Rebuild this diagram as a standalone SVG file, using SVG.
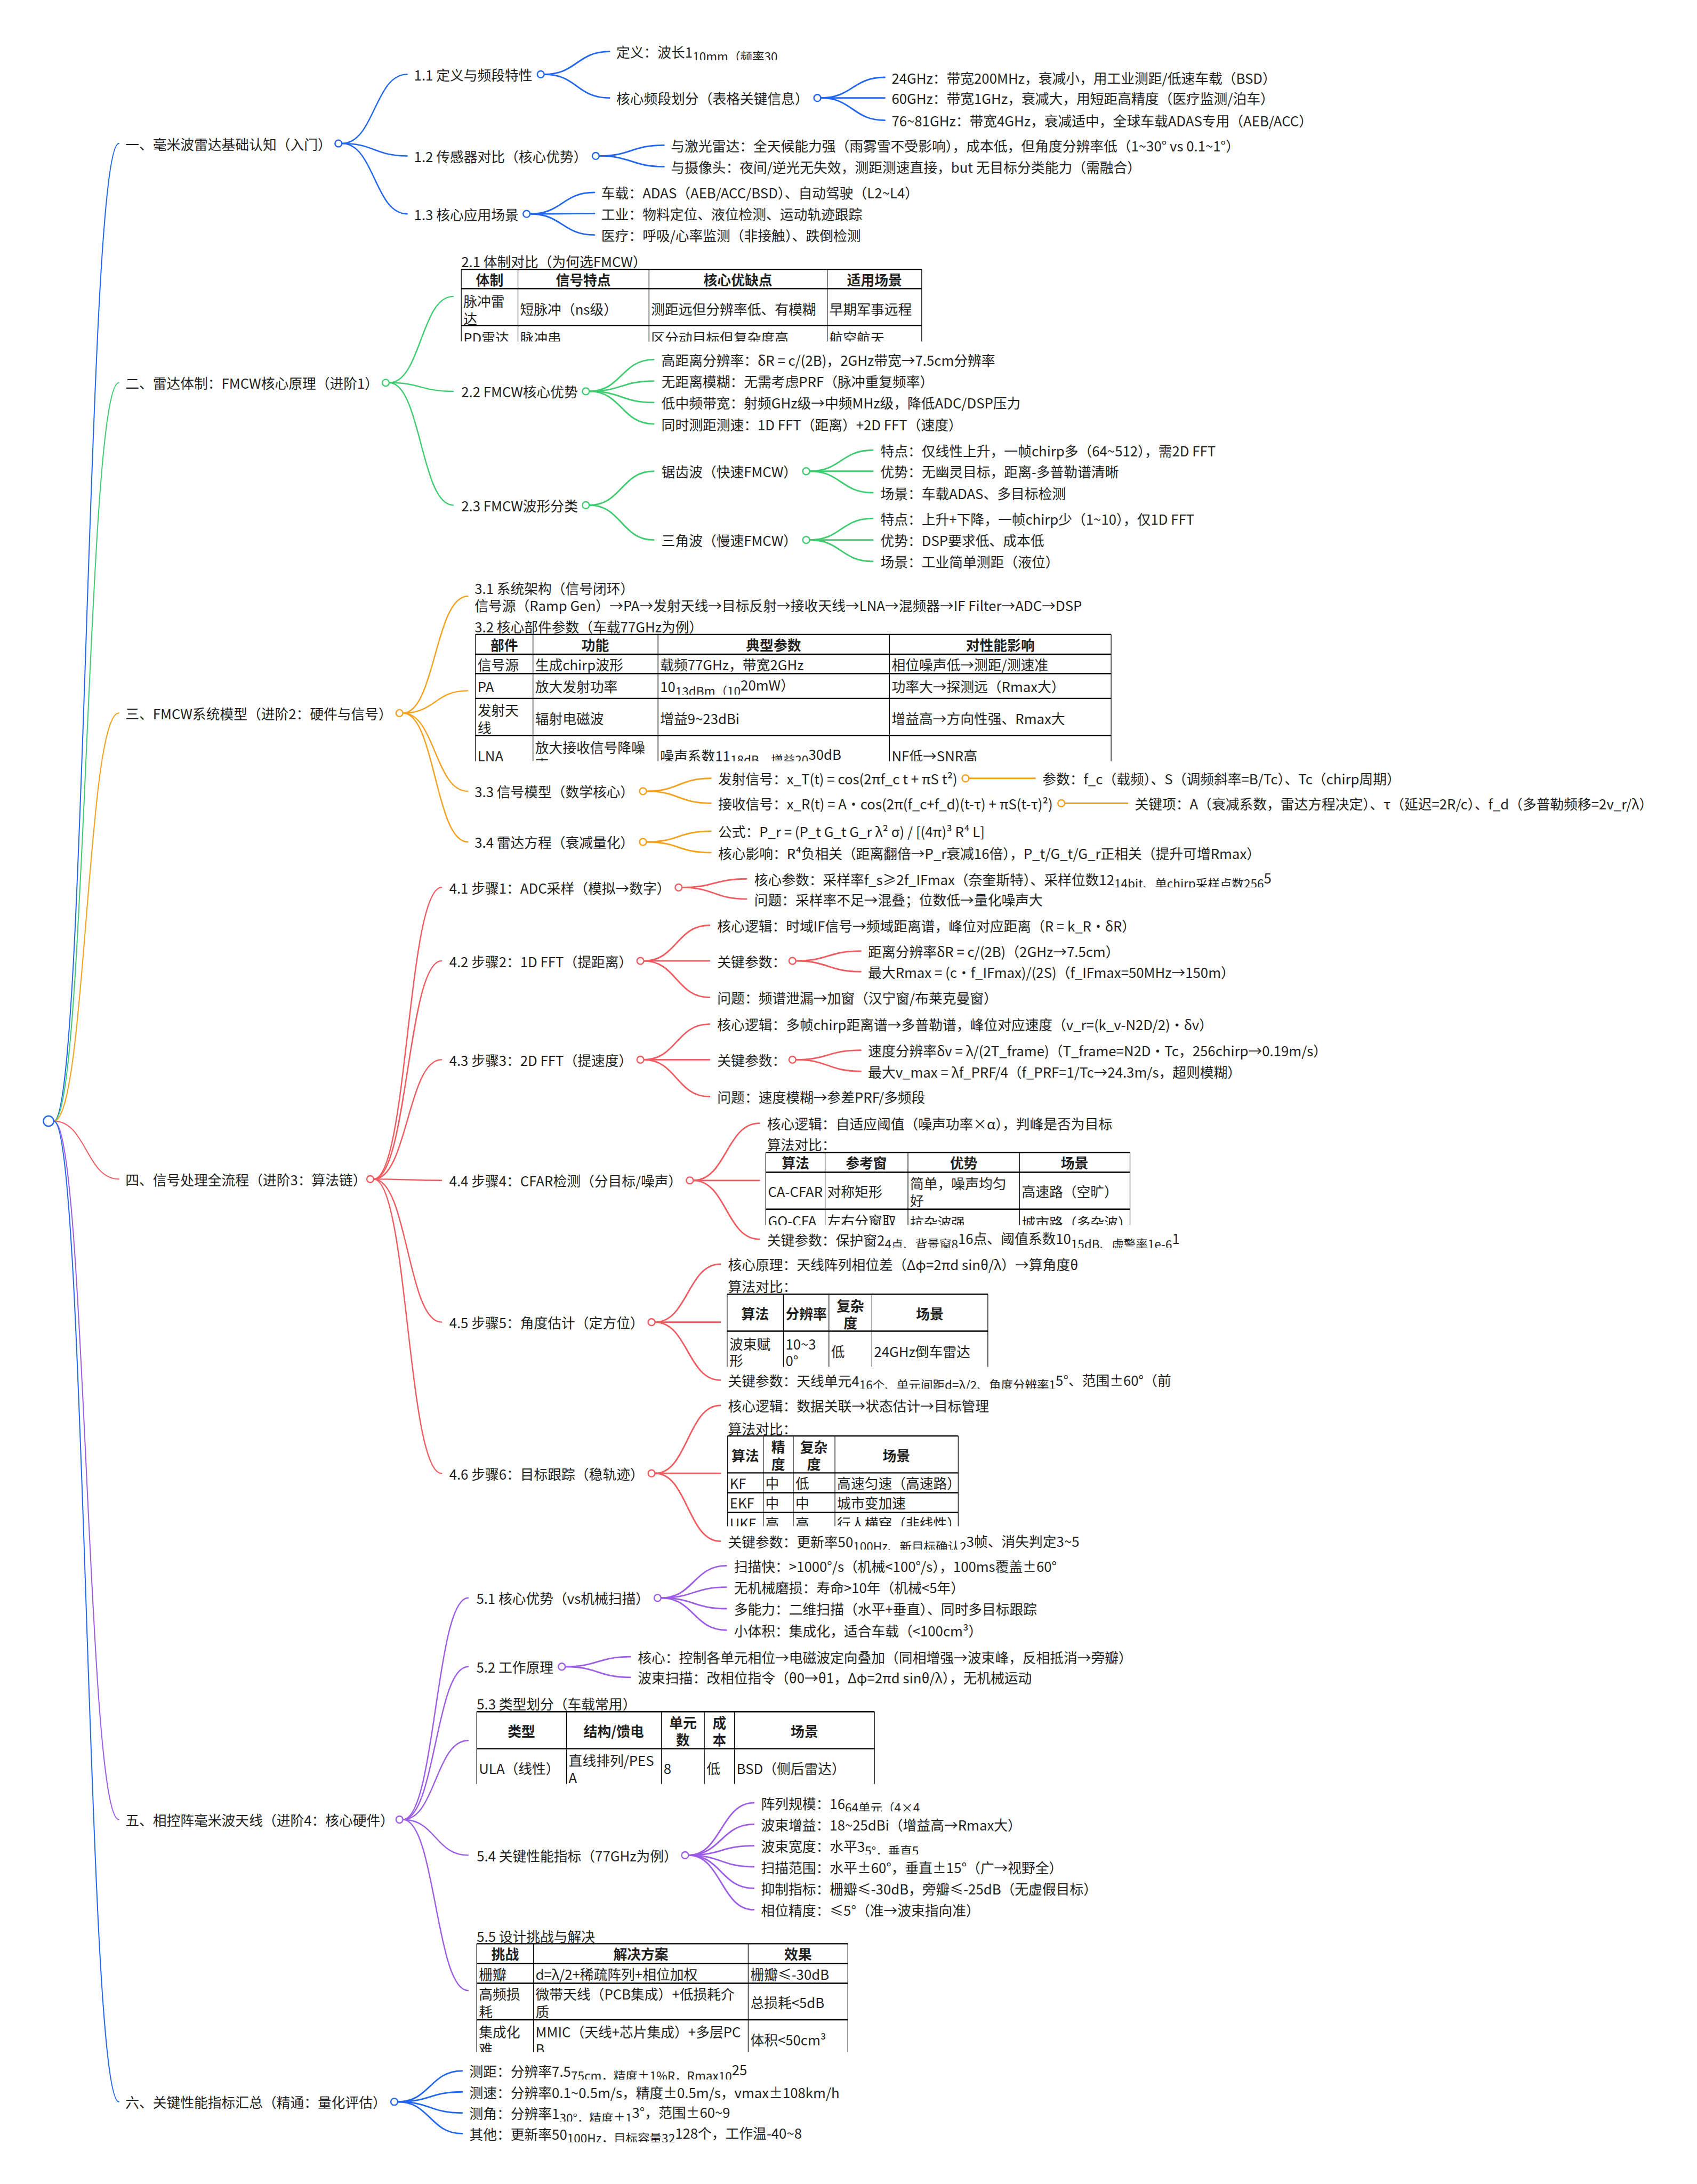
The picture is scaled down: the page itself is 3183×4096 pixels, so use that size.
<svg xmlns="http://www.w3.org/2000/svg" width="3183" height="4096" viewBox="0 0 3183 4096">
<style>
text{font-family:"Noto Sans CJK SC","Noto Sans",sans-serif;font-size:32px;fill:#1f1f1f;dominant-baseline:central}
.s{font-size:28px}
.h{font-weight:700}
.m{text-anchor:middle}
.lk{fill:none;stroke-width:3.5;stroke-linecap:round}
.l0{stroke-width:2.5}
.l1{stroke-width:3}
.dot{fill:#fff;stroke-width:3}
.B{stroke:#2066f0}.G{stroke:#3dcc70}.O{stroke:#f5a01a}.R{stroke:#f15a5f}.P{stroke:#9c5ce6}
.hl{stroke:#000;stroke-width:3}
.vl{stroke:#000;stroke-width:1.5}
</style>
<defs>
<clipPath id="c21"><rect x="1071" y="624" width="1078" height="171"/></clipPath>
<clipPath id="c32"><rect x="1104" y="1474" width="1486" height="298"/></clipPath>
<clipPath id="c44"><rect x="1780" y="2680" width="854" height="172"/></clipPath>
<clipPath id="c45"><rect x="1690" y="3010" width="613" height="172"/></clipPath>
<clipPath id="c46"><rect x="1691" y="3340" width="543" height="213"/></clipPath>
<clipPath id="c53"><rect x="1107" y="3982" width="932" height="171"/></clipPath>
<clipPath id="c55"><rect x="1107" y="4522" width="870" height="255"/></clipPath>
<clipPath id="k120"><rect x="0" y="90" width="3951" height="50"/></clipPath>
<clipPath id="k1597"><rect x="0" y="1567" width="3951" height="50"/></clipPath>
<clipPath id="k1758"><rect x="0" y="1728" width="3951" height="50"/></clipPath>
<clipPath id="k2046"><rect x="0" y="2016" width="3951" height="50"/></clipPath>
<clipPath id="k2885"><rect x="0" y="2855" width="3951" height="50"/></clipPath>
<clipPath id="k3213"><rect x="0" y="3183" width="3951" height="50"/></clipPath>
<clipPath id="k3588"><rect x="0" y="3558" width="3951" height="50"/></clipPath>
<clipPath id="k4197"><rect x="0" y="4167" width="3951" height="50"/></clipPath>
<clipPath id="k4297"><rect x="0" y="4267" width="3951" height="50"/></clipPath>
<clipPath id="k4821"><rect x="0" y="4791" width="3951" height="50"/></clipPath>
<clipPath id="k4919"><rect x="0" y="4889" width="3951" height="50"/></clipPath>
<clipPath id="k4967"><rect x="0" y="4937" width="3951" height="50"/></clipPath>
</defs>
<rect width="3183" height="4096" fill="#fff"/>
<g transform="scale(0.8056)">
<g id="connectors">
<path class="lk l0 B" d="M125,2610C201,2610 201,334 277,334"/>
<path class="lk l0 G" d="M125,2610C201,2610 201,891 277,891"/>
<path class="lk l0 O" d="M125,2610C201,2610 201,1660 277,1660"/>
<path class="lk l0 R" d="M125,2610C201,2610 201,2745 277,2745"/>
<path class="lk l0 P" d="M125,2610C201,2610 201,4236 277,4236"/>
<path class="lk l0 B" d="M125,2610C201,2610 201,4893 277,4893"/>
<path class="lk l1 B" d="M796,334C872,334 872,173 948,173"/>
<path class="lk l1 B" d="M796,334C872,334 872,363 948,363"/>
<path class="lk l1 B" d="M796,334C872,334 872,498 948,498"/>
<path class="lk B" d="M1267,173C1343,173 1343,120 1419,120"/>
<path class="lk B" d="M1267,173C1343,173 1343,228 1419,228"/>
<path class="lk B" d="M1911,228C1985,228 1985,180 2060,180"/>
<path class="lk B" d="M1911,228L2060,228"/>
<path class="lk B" d="M1911,228C1985,228 1985,280 2060,280"/>
<path class="lk B" d="M1395,363C1470,363 1470,338 1546,338"/>
<path class="lk B" d="M1395,363C1470,363 1470,388 1546,388"/>
<path class="lk B" d="M1234,498C1309,498 1309,448 1384,448"/>
<path class="lk B" d="M1234,498C1309,498 1309,497 1384,497"/>
<path class="lk B" d="M1234,498C1309,498 1309,547 1384,547"/>
<path class="lk l1 G" d="M906,891C980,891 980,690 1055,690"/>
<path class="lk l1 G" d="M906,891C980,891 980,911 1055,911"/>
<path class="lk l1 G" d="M906,891C980,891 980,1176 1055,1176"/>
<path class="lk G" d="M1372,911C1447,911 1447,837 1522,837"/>
<path class="lk G" d="M1372,911C1447,911 1447,887 1522,887"/>
<path class="lk G" d="M1372,911C1447,911 1447,937 1522,937"/>
<path class="lk G" d="M1372,911C1447,911 1447,987 1522,987"/>
<path class="lk G" d="M1372,1176C1447,1176 1447,1097 1522,1097"/>
<path class="lk G" d="M1372,1176C1447,1176 1447,1257 1522,1257"/>
<path class="lk G" d="M1885,1097C1958,1097 1958,1048 2032,1048"/>
<path class="lk G" d="M1885,1097L2032,1097"/>
<path class="lk G" d="M1885,1097C1958,1097 1958,1147 2032,1147"/>
<path class="lk G" d="M1885,1257C1958,1257 1958,1207 2032,1207"/>
<path class="lk G" d="M1885,1257L2032,1257"/>
<path class="lk G" d="M1885,1257C1958,1257 1958,1307 2032,1307"/>
<path class="lk l1 O" d="M938,1660C1013,1660 1013,1388 1089,1388"/>
<path class="lk l1 O" d="M938,1660C1013,1660 1013,1608 1089,1608"/>
<path class="lk l1 O" d="M938,1660C1013,1660 1013,1842 1089,1842"/>
<path class="lk l1 O" d="M938,1660C1013,1660 1013,1960 1089,1960"/>
<path class="lk O" d="M1505,1842C1580,1842 1580,1812 1655,1812"/>
<path class="lk O" d="M1505,1842C1580,1842 1580,1870 1655,1870"/>
<path class="lk O" d="M2256,1812L2410,1812"/>
<path class="lk O" d="M2479,1870L2625,1870"/>
<path class="lk O" d="M1505,1960C1580,1960 1580,1935 1655,1935"/>
<path class="lk O" d="M1505,1960C1580,1960 1580,1985 1655,1985"/>
<path class="lk l1 R" d="M870,2745C949,2745 949,2066 1028,2066"/>
<path class="lk l1 R" d="M870,2745C949,2745 949,2237 1028,2237"/>
<path class="lk l1 R" d="M870,2745C949,2745 949,2467 1028,2467"/>
<path class="lk l1 R" d="M870,2745C949,2745 949,2748 1028,2748"/>
<path class="lk l1 R" d="M870,2745C949,2745 949,3078 1028,3078"/>
<path class="lk l1 R" d="M870,2745C949,2745 949,3430 1028,3430"/>
<path class="lk R" d="M1588,2066C1663,2066 1663,2046 1738,2046"/>
<path class="lk R" d="M1588,2066C1663,2066 1663,2093 1738,2093"/>
<path class="lk R" d="M1499,2237C1575,2237 1575,2154 1652,2154"/>
<path class="lk R" d="M1499,2237L1652,2237"/>
<path class="lk R" d="M1499,2237C1575,2237 1575,2322 1652,2322"/>
<path class="lk R" d="M1853,2237C1928,2237 1928,2214 2004,2214"/>
<path class="lk R" d="M1853,2237C1928,2237 1928,2262 2004,2262"/>
<path class="lk R" d="M1499,2467C1575,2467 1575,2384 1652,2384"/>
<path class="lk R" d="M1499,2467L1652,2467"/>
<path class="lk R" d="M1499,2467C1575,2467 1575,2553 1652,2553"/>
<path class="lk R" d="M1853,2467C1928,2467 1928,2445 2004,2445"/>
<path class="lk R" d="M1853,2467C1928,2467 1928,2494 2004,2494"/>
<path class="lk R" d="M1614,2748C1691,2748 1691,2615 1768,2615"/>
<path class="lk R" d="M1614,2748L1768,2748"/>
<path class="lk R" d="M1614,2748C1691,2748 1691,2885 1768,2885"/>
<path class="lk R" d="M1525,3078C1601,3078 1601,2943 1677,2943"/>
<path class="lk R" d="M1525,3078L1677,3078"/>
<path class="lk R" d="M1525,3078C1601,3078 1601,3213 1677,3213"/>
<path class="lk R" d="M1525,3430C1601,3430 1601,3272 1677,3272"/>
<path class="lk R" d="M1525,3430L1677,3430"/>
<path class="lk R" d="M1525,3430C1601,3430 1601,3588 1677,3588"/>
<path class="lk l1 P" d="M938,4236C1014,4236 1014,3720 1090,3720"/>
<path class="lk l1 P" d="M938,4236C1014,4236 1014,3880 1090,3880"/>
<path class="lk l1 P" d="M938,4236C1014,4236 1014,4052 1090,4052"/>
<path class="lk l1 P" d="M938,4236C1014,4236 1014,4319 1090,4319"/>
<path class="lk l1 P" d="M938,4236C1014,4236 1014,4634 1090,4634"/>
<path class="lk P" d="M1539,3720C1615,3720 1615,3645 1691,3645"/>
<path class="lk P" d="M1539,3720C1615,3720 1615,3695 1691,3695"/>
<path class="lk P" d="M1539,3720C1615,3720 1615,3745 1691,3745"/>
<path class="lk P" d="M1539,3720C1615,3720 1615,3795 1691,3795"/>
<path class="lk P" d="M1316,3880C1392,3880 1392,3857 1468,3857"/>
<path class="lk P" d="M1316,3880C1392,3880 1392,3905 1468,3905"/>
<path class="lk P" d="M1603,4319C1679,4319 1679,4197 1755,4197"/>
<path class="lk P" d="M1603,4319C1679,4319 1679,4247 1755,4247"/>
<path class="lk P" d="M1603,4319C1679,4319 1679,4297 1755,4297"/>
<path class="lk P" d="M1603,4319C1679,4319 1679,4346 1755,4346"/>
<path class="lk P" d="M1603,4319C1679,4319 1679,4396 1755,4396"/>
<path class="lk P" d="M1603,4319C1679,4319 1679,4446 1755,4446"/>
<path class="lk B" d="M926,4893C1001,4893 1001,4821 1076,4821"/>
<path class="lk B" d="M926,4893C1001,4893 1001,4870 1076,4870"/>
<path class="lk B" d="M926,4893C1001,4893 1001,4919 1076,4919"/>
<path class="lk B" d="M926,4893C1001,4893 1001,4967 1076,4967"/>
</g>
<g id="root"><circle class="dot B" cx="113" cy="2610" r="12"/></g>

<g id="n1"><text x="292" y="334">一、毫米波雷达基础认知（入门）</text><circle class="dot B" cx="788" cy="334" r="8"/></g>
<g id="n1-1"><text x="964" y="173">1.1 定义与频段特性</text><circle class="dot B" cx="1259" cy="173" r="8"/></g>
<g id="n1-1-1" clip-path="url(#k120)"><text x="1435" y="120">定义：波长1<tspan class="s" dy="10">10mm（频率30</tspan></text></g>
<g id="n1-1-2"><text x="1435" y="228">核心频段划分（表格关键信息）</text><circle class="dot B" cx="1903" cy="228" r="8"/></g>
<g id="n1-1-2-1"><text x="2076" y="180">24GHz：带宽200MHz，衰减小，用工业测距/低速车载（BSD）</text></g>
<g id="n1-1-2-2"><text x="2076" y="228">60GHz：带宽1GHz，衰减大，用短距高精度（医疗监测/泊车）</text></g>
<g id="n1-1-2-3"><text x="2076" y="280">76~81GHz：带宽4GHz，衰减适中，全球车载ADAS专用（AEB/ACC）</text></g>
<g id="n1-2"><text x="964" y="363">1.2 传感器对比（核心优势）</text><circle class="dot B" cx="1387" cy="363" r="8"/></g>
<g id="n1-2-1"><text x="1562" y="338">与激光雷达：全天候能力强（雨雾雪不受影响），成本低，但角度分辨率低（1~30° vs 0.1~1°）</text></g>
<g id="n1-2-2"><text x="1562" y="388">与摄像头：夜间/逆光无失效，测距测速直接，but 无目标分类能力（需融合）</text></g>
<g id="n1-3"><text x="964" y="498">1.3 核心应用场景</text><circle class="dot B" cx="1226" cy="498" r="8"/></g>
<g id="n1-3-1"><text x="1400" y="448">车载：ADAS（AEB/ACC/BSD）、自动驾驶（L2~L4）</text></g>
<g id="n1-3-2"><text x="1400" y="497">工业：物料定位、液位检测、运动轨迹跟踪</text></g>
<g id="n1-3-3"><text x="1400" y="547">医疗：呼吸/心率监测（非接触）、跌倒检测</text></g>

<g id="n2"><text x="292" y="891">二、雷达体制：FMCW核心原理（进阶1）</text><circle class="dot G" cx="898" cy="891" r="8"/></g>
<g id="n2-1"><text x="1074" y="608">2.1 体制对比（为何选FMCW）</text>
<g clip-path="url(#c21)">
<line class="vl" x1="1074" y1="627" x2="1074" y2="820"/><line class="vl" x1="1206" y1="627" x2="1206" y2="820"/><line class="vl" x1="1511" y1="627" x2="1511" y2="820"/><line class="vl" x1="1926" y1="627" x2="1926" y2="820"/><line class="vl" x1="2146" y1="627" x2="2146" y2="820"/>
<line class="hl" x1="1074" y1="627" x2="2146" y2="627"/><line class="hl" x1="1074" y1="672" x2="2146" y2="672"/><line class="hl" x1="1074" y1="758" x2="2146" y2="758"/>
<text class="h m" x="1140" y="650">体制</text><text class="h m" x="1358" y="650">信号特点</text><text class="h m" x="1718" y="650">核心优缺点</text><text class="h m" x="2036" y="650">适用场景</text>
<text x="1079" y="700">脉冲雷</text><text x="1079" y="740">达</text><text x="1211" y="718">短脉冲（ns级）</text><text x="1516" y="718">测距远但分辨率低、有模糊</text><text x="1931" y="718">早期军事远程</text>
<text x="1079" y="785">PD雷达</text><text x="1211" y="785">脉冲串</text><text x="1516" y="785">区分动目标但复杂度高</text><text x="1931" y="785">航空航天</text>
</g></g>
<g id="n2-2"><text x="1074" y="911">2.2 FMCW核心优势</text><circle class="dot G" cx="1364" cy="911" r="8"/></g>
<g id="n2-2-1"><text x="1540" y="837">高距离分辨率：δR = c/(2B)，2GHz带宽→7.5cm分辨率</text></g>
<g id="n2-2-2"><text x="1540" y="887">无距离模糊：无需考虑PRF（脉冲重复频率）</text></g>
<g id="n2-2-3"><text x="1540" y="937">低中频带宽：射频GHz级→中频MHz级，降低ADC/DSP压力</text></g>
<g id="n2-2-4"><text x="1540" y="987">同时测距测速：1D FFT（距离）+2D FFT（速度）</text></g>
<g id="n2-3"><text x="1074" y="1176">2.3 FMCW波形分类</text><circle class="dot G" cx="1364" cy="1176" r="8"/></g>
<g id="n2-3-1"><text x="1540" y="1097">锯齿波（快速FMCW）</text><circle class="dot G" cx="1877" cy="1097" r="8"/></g>
<g id="n2-3-1-1"><text x="2050" y="1048">特点：仅线性上升，一帧chirp多（64~512），需2D FFT</text></g>
<g id="n2-3-1-2"><text x="2050" y="1097">优势：无幽灵目标，距离-多普勒谱清晰</text></g>
<g id="n2-3-1-3"><text x="2050" y="1147">场景：车载ADAS、多目标检测</text></g>
<g id="n2-3-2"><text x="1540" y="1257">三角波（慢速FMCW）</text><circle class="dot G" cx="1877" cy="1257" r="8"/></g>
<g id="n2-3-2-1"><text x="2050" y="1207">特点：上升+下降，一帧chirp少（1~10），仅1D FFT</text></g>
<g id="n2-3-2-2"><text x="2050" y="1257">优势：DSP要求低、成本低</text></g>
<g id="n2-3-2-3"><text x="2050" y="1307">场景：工业简单测距（液位）</text></g>

<g id="n3"><text x="292" y="1660">三、FMCW系统模型（进阶2：硬件与信号）</text><circle class="dot O" cx="930" cy="1660" r="8"/></g>
<g id="n3-1"><text x="1105" y="1368">3.1 系统架构（信号闭环）</text><text x="1105" y="1408">信号源（Ramp Gen）→PA→发射天线→目标反射→接收天线→LNA→混频器→IF Filter→ADC→DSP</text></g>
<g id="n3-2"><text x="1105" y="1458">3.2 核心部件参数（车载77GHz为例）</text>
<g clip-path="url(#c32)">
<line class="vl" x1="1107" y1="1477" x2="1107" y2="1800"/><line class="vl" x1="1241" y1="1477" x2="1241" y2="1800"/><line class="vl" x1="1532" y1="1477" x2="1532" y2="1800"/><line class="vl" x1="2071" y1="1477" x2="2071" y2="1800"/><line class="vl" x1="2587" y1="1477" x2="2587" y2="1800"/>
<line class="hl" x1="1107" y1="1477" x2="2587" y2="1477"/><line class="hl" x1="1107" y1="1523" x2="2587" y2="1523"/><line class="hl" x1="1107" y1="1568" x2="2587" y2="1568"/><line class="hl" x1="1107" y1="1626" x2="2587" y2="1626"/><line class="hl" x1="1107" y1="1712" x2="2587" y2="1712"/>
<text class="h m" x="1174" y="1500">部件</text><text class="h m" x="1386" y="1500">功能</text><text class="h m" x="1801" y="1500">典型参数</text><text class="h m" x="2329" y="1500">对性能影响</text>
<text x="1112" y="1546">信号源</text><text x="1246" y="1546">生成chirp波形</text><text x="1537" y="1546">载频77GHz，带宽2GHz</text><text x="2076" y="1546">相位噪声低→测距/测速准</text>
<text x="1112" y="1597">PA</text><text x="1246" y="1597">放大发射功率</text><g clip-path="url(#k1597)"><text x="1537" y="1597">10<tspan class="s" dy="10">13dBm（10</tspan><tspan dy="-14">20mW）</tspan></text></g><text x="2076" y="1597">功率大→探测远（Rmax大）</text>
<text x="1112" y="1652">发射天</text><text x="1112" y="1692">线</text><text x="1246" y="1672">辐射电磁波</text><text x="1537" y="1672">增益9~23dBi</text><text x="2076" y="1672">增益高→方向性强、Rmax大</text>
<text x="1112" y="1758">LNA</text><text x="1246" y="1738">放大接收信号降噪</text><text x="1246" y="1778">声</text><g clip-path="url(#k1758)"><text x="1537" y="1758">噪声系数11<tspan class="s" dy="10">18dB，增益20</tspan><tspan dy="-14">30dB</tspan></text></g><text x="2076" y="1758">NF低→SNR高</text>
</g></g>
<g id="n3-3"><text x="1105" y="1842">3.3 信号模型（数学核心）</text><circle class="dot O" cx="1497" cy="1842" r="8"/></g>
<g id="n3-3-1"><text x="1672" y="1812">发射信号：x_T(t) = cos(2πf_c t + πS t²)</text><circle class="dot O" cx="2248" cy="1812" r="8"/></g>
<g id="n3-3-1-1"><text x="2427" y="1812">参数：f_c（载频）、S（调频斜率=B/Tc）、Tc（chirp周期）</text></g>
<g id="n3-3-2"><text x="1672" y="1870">接收信号：x_R(t) = A・cos(2π(f_c+f_d)(t-τ) + πS(t-τ)²)</text><circle class="dot O" cx="2471" cy="1870" r="8"/></g>
<g id="n3-3-2-1"><text x="2642" y="1870">关键项：A（衰减系数，雷达方程决定）、τ（延迟=2R/c）、f_d（多普勒频移=2v_r/λ）</text></g>
<g id="n3-4"><text x="1105" y="1960">3.4 雷达方程（衰减量化）</text><circle class="dot O" cx="1497" cy="1960" r="8"/></g>
<g id="n3-4-1"><text x="1672" y="1935">公式：P_r = (P_t G_t G_r λ² σ) / [(4π)³ R⁴ L]</text></g>
<g id="n3-4-2"><text x="1672" y="1985">核心影响：R⁴负相关（距离翻倍→P_r衰减16倍），P_t/G_t/G_r正相关（提升可增Rmax）</text></g>

<g id="n4"><text x="292" y="2745">四、信号处理全流程（进阶3：算法链）</text><circle class="dot R" cx="862" cy="2745" r="8"/></g>
<g id="n4-1"><text x="1046" y="2066">4.1 步骤1：ADC采样（模拟→数字）</text><circle class="dot R" cx="1580" cy="2066" r="8"/></g>
<g id="n4-1-1" clip-path="url(#k2046)"><text x="1756" y="2046">核心参数：采样率f_s≥2f_IFmax（奈奎斯特）、采样位数12<tspan class="s" dy="10">14bit、单chirp采样点数256</tspan><tspan dy="-14">5</tspan></text></g>
<g id="n4-1-2"><text x="1756" y="2093">问题：采样率不足→混叠；位数低→量化噪声大</text></g>
<g id="n4-2"><text x="1046" y="2237">4.2 步骤2：1D FFT（提距离）</text><circle class="dot R" cx="1491" cy="2237" r="8"/></g>
<g id="n4-2-1"><text x="1670" y="2154">核心逻辑：时域IF信号→频域距离谱，峰位对应距离（R = k_R・δR）</text></g>
<g id="n4-2-2"><text x="1670" y="2237">关键参数：</text><circle class="dot R" cx="1845" cy="2237" r="8"/></g>
<g id="n4-2-2-1"><text x="2021" y="2214">距离分辨率δR = c/(2B)（2GHz→7.5cm）</text></g>
<g id="n4-2-2-2"><text x="2021" y="2262">最大Rmax = (c・f_IFmax)/(2S)（f_IFmax=50MHz→150m）</text></g>
<g id="n4-2-3"><text x="1670" y="2322">问题：频谱泄漏→加窗（汉宁窗/布莱克曼窗）</text></g>
<g id="n4-3"><text x="1046" y="2467">4.3 步骤3：2D FFT（提速度）</text><circle class="dot R" cx="1491" cy="2467" r="8"/></g>
<g id="n4-3-1"><text x="1670" y="2384">核心逻辑：多帧chirp距离谱→多普勒谱，峰位对应速度（v_r=(k_v-N2D/2)・δv）</text></g>
<g id="n4-3-2"><text x="1670" y="2467">关键参数：</text><circle class="dot R" cx="1845" cy="2467" r="8"/></g>
<g id="n4-3-2-1"><text x="2021" y="2445">速度分辨率δv = λ/(2T_frame)（T_frame=N2D・Tc，256chirp→0.19m/s）</text></g>
<g id="n4-3-2-2"><text x="2021" y="2494">最大v_max = λf_PRF/4（f_PRF=1/Tc→24.3m/s，超则模糊）</text></g>
<g id="n4-3-3"><text x="1670" y="2553">问题：速度模糊→参差PRF/多频段</text></g>
<g id="n4-4"><text x="1046" y="2748">4.4 步骤4：CFAR检测（分目标/噪声）</text><circle class="dot R" cx="1606" cy="2748" r="8"/></g>
<g id="n4-4-1"><text x="1786" y="2615">核心逻辑：自适应阈值（噪声功率×α），判峰是否为目标</text></g>
<g id="n4-4-2"><text x="1786" y="2663">算法对比：</text>
<g clip-path="url(#c44)">
<line class="vl" x1="1783" y1="2683" x2="1783" y2="2900"/><line class="vl" x1="1921" y1="2683" x2="1921" y2="2900"/><line class="vl" x1="2114" y1="2683" x2="2114" y2="2900"/><line class="vl" x1="2374" y1="2683" x2="2374" y2="2900"/><line class="vl" x1="2631" y1="2683" x2="2631" y2="2900"/>
<line class="hl" x1="1783" y1="2683" x2="2631" y2="2683"/><line class="hl" x1="1783" y1="2729" x2="2631" y2="2729"/><line class="hl" x1="1783" y1="2815" x2="2631" y2="2815"/>
<text class="h m" x="1852" y="2706">算法</text><text class="h m" x="2017" y="2706">参考窗</text><text class="h m" x="2244" y="2706">优势</text><text class="h m" x="2502" y="2706">场景</text>
<text x="1788" y="2772">CA-CFAR</text><text x="1926" y="2772">对称矩形</text><text x="2119" y="2754">简单，噪声均匀</text><text x="2119" y="2793">好</text><text x="2379" y="2772">高速路（空旷）</text>
<text x="1788" y="2841">GO-CFA</text><text x="1926" y="2841">左右分窗取</text><text x="2119" y="2845">抗杂波强</text><text x="2379" y="2845">城市路（多杂波）</text>
</g></g>
<g id="n4-4-3" clip-path="url(#k2885)"><text x="1786" y="2885">关键参数：保护窗2<tspan class="s" dy="10">4点、背景窗8</tspan><tspan dy="-14">16点、阈值系数10</tspan><tspan class="s" dy="14">15dB、虚警率1e-6</tspan><tspan dy="-14">1</tspan></text></g>
<g id="n4-5"><text x="1046" y="3078">4.5 步骤5：角度估计（定方位）</text><circle class="dot R" cx="1517" cy="3078" r="8"/></g>
<g id="n4-5-1"><text x="1695" y="2943">核心原理：天线阵列相位差（Δφ=2πd sinθ/λ）→算角度θ</text></g>
<g id="n4-5-2"><text x="1695" y="2993">算法对比：</text>
<g clip-path="url(#c45)">
<line class="vl" x1="1693" y1="3013" x2="1693" y2="3200"/><line class="vl" x1="1824" y1="3013" x2="1824" y2="3200"/><line class="vl" x1="1930" y1="3013" x2="1930" y2="3200"/><line class="vl" x1="2030" y1="3013" x2="2030" y2="3200"/><line class="vl" x1="2300" y1="3013" x2="2300" y2="3200"/>
<line class="hl" x1="1693" y1="3013" x2="2300" y2="3013"/><line class="hl" x1="1693" y1="3099" x2="2300" y2="3099"/>
<text class="h m" x="1758" y="3057">算法</text><text class="h m" x="1877" y="3057">分辨率</text><text class="h m" x="1980" y="3038">复杂</text><text class="h m" x="1980" y="3078">度</text><text class="h m" x="2165" y="3057">场景</text>
<text x="1698" y="3127">波束赋</text><text x="1698" y="3166">形</text><text x="1829" y="3127">10~3</text><text x="1829" y="3166">0°</text><text x="1935" y="3145">低</text><text x="2035" y="3145">24GHz倒车雷达</text>
</g></g>
<g id="n4-5-3" clip-path="url(#k3213)"><text x="1695" y="3213">关键参数：天线单元4<tspan class="s" dy="10">16个、单元间距d=λ/2、角度分辨率1</tspan><tspan dy="-12">5°、范围±60°（前</tspan></text></g>
<g id="n4-6"><text x="1046" y="3430">4.6 步骤6：目标跟踪（稳轨迹）</text><circle class="dot R" cx="1517" cy="3430" r="8"/></g>
<g id="n4-6-1"><text x="1695" y="3272">核心逻辑：数据关联→状态估计→目标管理</text></g>
<g id="n4-6-2"><text x="1695" y="3325">算法对比：</text>
<g clip-path="url(#c46)">
<line class="vl" x1="1694" y1="3343" x2="1694" y2="3580"/><line class="vl" x1="1777" y1="3343" x2="1777" y2="3580"/><line class="vl" x1="1847" y1="3343" x2="1847" y2="3580"/><line class="vl" x1="1944" y1="3343" x2="1944" y2="3580"/><line class="vl" x1="2231" y1="3343" x2="2231" y2="3580"/>
<line class="hl" x1="1694" y1="3343" x2="2231" y2="3343"/><line class="hl" x1="1694" y1="3429" x2="2231" y2="3429"/><line class="hl" x1="1694" y1="3475" x2="2231" y2="3475"/><line class="hl" x1="1694" y1="3521" x2="2231" y2="3521"/>
<text class="h m" x="1735" y="3387">算法</text><text class="h m" x="1812" y="3367">精</text><text class="h m" x="1812" y="3407">度</text><text class="h m" x="1895" y="3367">复杂</text><text class="h m" x="1895" y="3407">度</text><text class="h m" x="2087" y="3387">场景</text>
<text x="1699" y="3452">KF</text><text x="1782" y="3452">中</text><text x="1852" y="3452">低</text><text x="1949" y="3452">高速匀速（高速路）</text>
<text x="1699" y="3498">EKF</text><text x="1782" y="3498">中</text><text x="1852" y="3498">中</text><text x="1949" y="3498">城市变加速</text>
<text x="1699" y="3544">UKF</text><text x="1782" y="3544">高</text><text x="1852" y="3544">高</text><text x="1949" y="3544">行人横穿（非线性）</text>
</g></g>
<g id="n4-6-3" clip-path="url(#k3588)"><text x="1695" y="3588">关键参数：更新率50<tspan class="s" dy="10">100Hz、新目标确认2</tspan><tspan dy="-12">3帧、消失判定3~5</tspan></text></g>

<g id="n5"><text x="292" y="4236">五、相控阵毫米波天线（进阶4：核心硬件）</text><circle class="dot P" cx="930" cy="4236" r="8"/></g>
<g id="n5-1"><text x="1109" y="3720">5.1 核心优势（vs机械扫描）</text><circle class="dot P" cx="1531" cy="3720" r="8"/></g>
<g id="n5-1-1"><text x="1709" y="3645">扫描快：&gt;1000°/s（机械&lt;100°/s），100ms覆盖±60°</text></g>
<g id="n5-1-2"><text x="1709" y="3695">无机械磨损：寿命&gt;10年（机械&lt;5年）</text></g>
<g id="n5-1-3"><text x="1709" y="3745">多能力：二维扫描（水平+垂直）、同时多目标跟踪</text></g>
<g id="n5-1-4"><text x="1709" y="3795">小体积：集成化，适合车载（&lt;100cm³）</text></g>
<g id="n5-2"><text x="1109" y="3880">5.2 工作原理</text><circle class="dot P" cx="1308" cy="3880" r="8"/></g>
<g id="n5-2-1"><text x="1485" y="3857">核心：控制各单元相位→电磁波定向叠加（同相增强→波束峰，反相抵消→旁瓣）</text></g>
<g id="n5-2-2"><text x="1485" y="3905">波束扫描：改相位指令（θ0→θ1，Δφ=2πd sinθ/λ），无机械运动</text></g>
<g id="n5-3"><text x="1110" y="3965">5.3 类型划分（车载常用）</text>
<g clip-path="url(#c53)">
<line class="vl" x1="1110" y1="3985" x2="1110" y2="4180"/><line class="vl" x1="1319" y1="3985" x2="1319" y2="4180"/><line class="vl" x1="1540" y1="3985" x2="1540" y2="4180"/><line class="vl" x1="1640" y1="3985" x2="1640" y2="4180"/><line class="vl" x1="1710" y1="3985" x2="1710" y2="4180"/><line class="vl" x1="2036" y1="3985" x2="2036" y2="4180"/>
<line class="hl" x1="1110" y1="3985" x2="2036" y2="3985"/><line class="hl" x1="1110" y1="4071" x2="2036" y2="4071"/>
<text class="h m" x="1214" y="4029">类型</text><text class="h m" x="1429" y="4029">结构/馈电</text><text class="h m" x="1590" y="4009">单元</text><text class="h m" x="1590" y="4049">数</text><text class="h m" x="1675" y="4009">成</text><text class="h m" x="1675" y="4049">本</text><text class="h m" x="1873" y="4029">场景</text>
<text x="1115" y="4116">ULA（线性）</text><text x="1324" y="4097">直线排列/PES</text><text x="1324" y="4137">A</text><text x="1545" y="4116">8</text><text x="1645" y="4116">低</text><text x="1715" y="4116">BSD（侧后雷达）</text>
</g></g>
<g id="n5-4"><text x="1110" y="4319">5.4 关键性能指标（77GHz为例）</text><circle class="dot P" cx="1595" cy="4319" r="8"/></g>
<g id="n5-4-1" clip-path="url(#k4197)"><text x="1772" y="4197">阵列规模：16<tspan class="s" dy="10">64单元（4×4</tspan></text></g>
<g id="n5-4-2"><text x="1772" y="4247">波束增益：18~25dBi（增益高→Rmax大）</text></g>
<g id="n5-4-3" clip-path="url(#k4297)"><text x="1772" y="4297">波束宽度：水平3<tspan class="s" dy="10">5°，垂直5</tspan></text></g>
<g id="n5-4-4"><text x="1772" y="4346">扫描范围：水平±60°，垂直±15°（广→视野全）</text></g>
<g id="n5-4-5"><text x="1772" y="4396">抑制指标：栅瓣≤-30dB，旁瓣≤-25dB（无虚假目标）</text></g>
<g id="n5-4-6"><text x="1772" y="4446">相位精度：≤5°（准→波束指向准）</text></g>
<g id="n5-5"><text x="1110" y="4507">5.5 设计挑战与解决</text>
<g clip-path="url(#c55)">
<line class="vl" x1="1110" y1="4525" x2="1110" y2="4800"/><line class="vl" x1="1242" y1="4525" x2="1242" y2="4800"/><line class="vl" x1="1742" y1="4525" x2="1742" y2="4800"/><line class="vl" x1="1974" y1="4525" x2="1974" y2="4800"/>
<line class="hl" x1="1110" y1="4525" x2="1974" y2="4525"/><line class="hl" x1="1110" y1="4571" x2="1974" y2="4571"/><line class="hl" x1="1110" y1="4617" x2="1974" y2="4617"/><line class="hl" x1="1110" y1="4702" x2="1974" y2="4702"/>
<text class="h m" x="1176" y="4548">挑战</text><text class="h m" x="1492" y="4548">解决方案</text><text class="h m" x="1858" y="4548">效果</text>
<text x="1115" y="4595">栅瓣</text><text x="1247" y="4595">d=λ/2+稀疏阵列+相位加权</text><text x="1747" y="4595">栅瓣≤-30dB</text>
<text x="1115" y="4641">高频损</text><text x="1115" y="4681">耗</text><text x="1247" y="4641">微带天线（PCB集成）+低损耗介</text><text x="1247" y="4681">质</text><text x="1747" y="4661">总损耗&lt;5dB</text>
<text x="1115" y="4729">集成化</text><text x="1115" y="4768">难</text><text x="1247" y="4729">MMIC（天线+芯片集成）+多层PC</text><text x="1247" y="4768">B</text><text x="1747" y="4748">体积&lt;50cm³</text>
</g></g>

<g id="n6"><text x="292" y="4893">六、关键性能指标汇总（精通：量化评估）</text><circle class="dot B" cx="918" cy="4893" r="8"/></g>
<g id="n6-1" clip-path="url(#k4821)"><text x="1093" y="4821">测距：分辨率7.5<tspan class="s" dy="10">75cm，精度±1%R，Rmax10</tspan><tspan dy="-15">25</tspan></text></g>
<g id="n6-2"><text x="1093" y="4870">测速：分辨率0.1~0.5m/s，精度±0.5m/s，vmax±108km/h</text></g>
<g id="n6-3" clip-path="url(#k4919)"><text x="1093" y="4919">测角：分辨率1<tspan class="s" dy="10">30°，精度±1</tspan><tspan dy="-13">3°，范围±60~9</tspan></text></g>
<g id="n6-4" clip-path="url(#k4967)"><text x="1093" y="4967">其他：更新率50<tspan class="s" dy="10">100Hz，目标容量32</tspan><tspan dy="-13">128个，工作温-40~8</tspan></text></g>
</g>
</svg>
